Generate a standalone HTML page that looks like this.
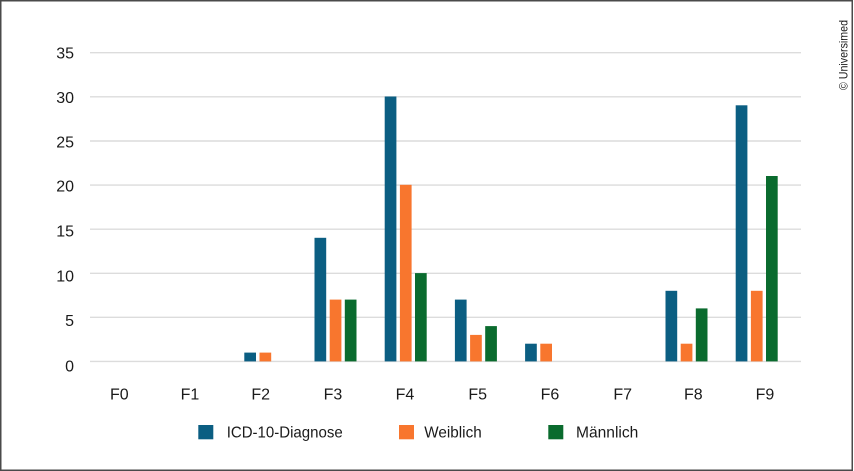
<!DOCTYPE html>
<html>
<head>
<meta charset="utf-8">
<style>
  html, body { margin: 0; padding: 0; background: #fff; }
  body { width: 854px; height: 471px; overflow: hidden; }
  svg { display: block; }
  text { font-family: "Liberation Sans", "DejaVu Sans", sans-serif; fill: #1a1a1a; }
</style>
</head>
<body>
<svg width="854" height="471" viewBox="0 0 854 471" xmlns="http://www.w3.org/2000/svg">
  <rect x="0" y="0" width="854" height="471" fill="#fff"/>
  <!-- border -->
  <rect x="0.75" y="0.75" width="851.5" height="469.5" fill="none" stroke="#4a4a4a" stroke-width="1.5"/>

  <!-- gridlines -->
  <g stroke="#dcdcdc" stroke-width="1.4">
    <line x1="90" y1="52.7" x2="801" y2="52.7"/>
    <line x1="90" y1="96.8" x2="801" y2="96.8"/>
    <line x1="90" y1="141" x2="801" y2="141"/>
    <line x1="90" y1="185.1" x2="801" y2="185.1"/>
    <line x1="90" y1="229.2" x2="801" y2="229.2"/>
    <line x1="90" y1="273.3" x2="801" y2="273.3"/>
    <line x1="90" y1="317.3" x2="801" y2="317.3"/>
    <line x1="90" y1="361.4" x2="801" y2="361.4"/>
  </g>

  <!-- y labels -->
  <g font-size="16" text-anchor="end">
    <text x="74" y="58.5">35</text>
    <text x="74" y="102.8">30</text>
    <text x="74" y="147.3">25</text>
    <text x="74" y="191.7">20</text>
    <text x="74" y="236.5">15</text>
    <text x="74" y="281.5">10</text>
    <text x="74" y="326">5</text>
    <text x="74" y="371.5">0</text>
  </g>

  <!-- bars: y(v)=361.4 - v*8.83 ; width 11.7 -->
  <!-- F2 start 244.3 -->
  <rect x="244.3" y="352.6" width="11.7" height="8.8" fill="#0b5e82"/>
  <rect x="259.5" y="352.6" width="11.7" height="8.8" fill="#f8762e"/>
  <!-- F3 start 314.5 -->
  <rect x="314.5" y="237.8" width="11.7" height="123.6" fill="#0b5e82"/>
  <rect x="329.7" y="299.6" width="11.7" height="61.8" fill="#f8762e"/>
  <rect x="344.8" y="299.6" width="11.7" height="61.8" fill="#0a6b2e"/>
  <!-- F4 start 384.7 -->
  <rect x="384.7" y="96.5" width="11.7" height="264.9" fill="#0b5e82"/>
  <rect x="399.9" y="184.8" width="11.7" height="176.6" fill="#f8762e"/>
  <rect x="415.0" y="273.1" width="11.7" height="88.3" fill="#0a6b2e"/>
  <!-- F5 start 454.9 -->
  <rect x="454.9" y="299.6" width="11.7" height="61.8" fill="#0b5e82"/>
  <rect x="470.1" y="334.9" width="11.7" height="26.5" fill="#f8762e"/>
  <rect x="485.2" y="326.1" width="11.7" height="35.3" fill="#0a6b2e"/>
  <!-- F6 start 525.1 -->
  <rect x="525.1" y="343.7" width="11.7" height="17.7" fill="#0b5e82"/>
  <rect x="540.3" y="343.7" width="11.7" height="17.7" fill="#f8762e"/>
  <!-- F8 start 665.5 -->
  <rect x="665.5" y="290.8" width="11.7" height="70.6" fill="#0b5e82"/>
  <rect x="680.7" y="343.7" width="11.7" height="17.7" fill="#f8762e"/>
  <rect x="695.8" y="308.4" width="11.7" height="53.0" fill="#0a6b2e"/>
  <!-- F9 start 735.7 -->
  <rect x="735.7" y="105.3" width="11.7" height="256.1" fill="#0b5e82"/>
  <rect x="750.9" y="290.8" width="11.7" height="70.6" fill="#f8762e"/>
  <rect x="766.0" y="176.0" width="11.7" height="185.4" fill="#0a6b2e"/>

  <!-- x labels -->
  <g font-size="16" text-anchor="middle">
    <text x="119.3" y="399.5">F0</text>
    <text x="190" y="399.5">F1</text>
    <text x="260.7" y="399.5">F2</text>
    <text x="333" y="399.5">F3</text>
    <text x="405" y="399.5">F4</text>
    <text x="477.7" y="399.5">F5</text>
    <text x="550" y="399.5">F6</text>
    <text x="622.7" y="399.5">F7</text>
    <text x="693.3" y="399.5">F8</text>
    <text x="765" y="399.5">F9</text>
  </g>

  <!-- legend -->
  <rect x="198.3" y="425" width="15" height="14.3" fill="#0b5e82"/>
  <text x="226.7" y="437.5" font-size="16" textLength="116" lengthAdjust="spacingAndGlyphs">ICD-10-Diagnose</text>
  <rect x="399" y="425" width="15" height="14.3" fill="#f8762e"/>
  <text x="424.3" y="437.5" font-size="16" textLength="57.4" lengthAdjust="spacingAndGlyphs">Weiblich</text>
  <rect x="548.3" y="425" width="15" height="14.3" fill="#0a6b2e"/>
  <text x="576" y="437.5" font-size="16" textLength="62.3" lengthAdjust="spacingAndGlyphs">Männlich</text>

  <!-- copyright -->
  <text transform="translate(847.5,90) rotate(-90)" font-size="12" fill="#333" textLength="70" lengthAdjust="spacingAndGlyphs">© Universimed</text>
</svg>
</body>
</html>
